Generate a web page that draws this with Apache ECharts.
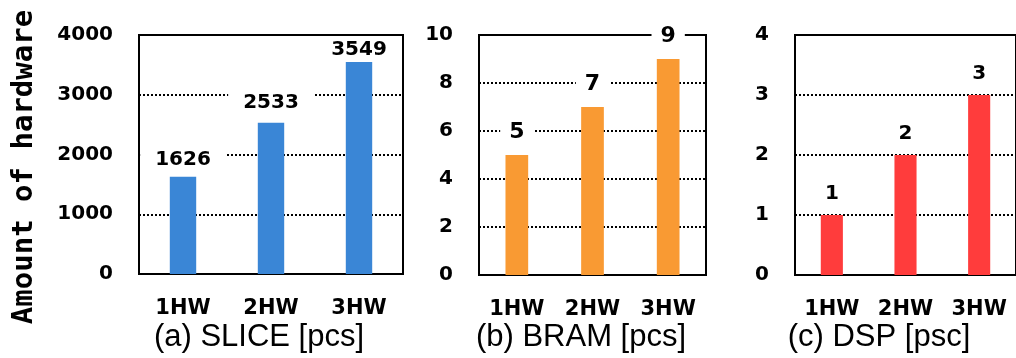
<!DOCTYPE html>
<html>
<head>
<meta charset="utf-8">
<script src="https://cdn.jsdelivr.net/npm/echarts@6/dist/echarts.min.js"></script>
<style>html,body{margin:0;padding:0;background:#fff;}#c{width:1016px;height:358px;}</style>
</head>
<body>
<div id="c"></div>
<script>
const categories = ['1HW', '2HW', '3HW'];
const sliceValues = [1626, 2533, 3549];
const bramValues = [5, 7, 9];
const dspValues = [1, 2, 3];
const panelTitles = ['(a) SLICE [pcs]', '(b) BRAM [pcs]', '(c) DSP [psc]'];
const yAxisTitle = 'Amount of hardware';
const yMax = [4000, 10, 4];
const yInterval = [1000, 2, 1];

const colors = ['#3A86D6', '#F99A33', '#FF3C3C'];
const grids = [
  {left: 139, top: 35, width: 264, height: 239},
  {left: 479, top: 35, width: 227, height: 240},
  {left: 795, top: 35, width: 229, height: 240}
];
// label offsets above each bar (per panel, per bar)
const labelDist = [[5, 8, 0], [11, 11, 11], [10, 10, 10]];
const labelPad = [[2, 15], [1, 9], [1, 9]];
const labelSize = [20, 22, 20];
const titleX = [259, 581, 879];
const seriesData = [sliceValues, bramValues, dspValues];

const chart = echarts.init(document.getElementById('c'), null, {renderer: 'canvas'});
const boldFont = '"DejaVu Sans", sans-serif';

const option = {
  animation: false,
  backgroundColor: '#fff',
  grid: grids.map(g => Object.assign({show: true, borderColor: '#000', borderWidth: 2, backgroundColor: 'transparent', containLabel: false}, g)),
  xAxis: grids.map((g, i) => ({
    type: 'category', gridIndex: i, data: categories,
    axisLine: {show: false}, axisTick: {show: false},
    axisLabel: {margin: 24, color: '#000', fontWeight: 'bold', fontSize: 21, fontFamily: boldFont}
  })),
  yAxis: grids.map((g, i) => ({
    type: 'value', gridIndex: i, min: 0, max: yMax[i], interval: yInterval[i],
    axisLine: {show: false}, axisTick: {show: false},
    axisLabel: {margin: 26, color: '#000', fontWeight: 'bold', fontSize: 20, fontFamily: boldFont, formatter: v => String(v)},
    splitLine: {show: true, lineStyle: {color: '#000', width: 2, type: [2, 2]}}
  })),
  series: seriesData.map((d, i) => ({
    type: 'bar', xAxisIndex: i, yAxisIndex: i, barWidth: '30%',
    data: d.map((v, j) => ({value: v, label: {distance: labelDist[i][j]}})),
    itemStyle: {color: colors[i]},
    label: {
      show: true, position: 'top', color: '#000',
      fontWeight: 'bold', fontSize: labelSize[i], fontFamily: boldFont,
      backgroundColor: '#fff', padding: labelPad[i]
    }
  })),
  graphic: [
    {
      type: 'text', x: 24, y: 167, rotation: Math.PI / 2,
      style: {text: yAxisTitle, font: 'bold 29px "DejaVu Sans Mono", monospace', fill: '#000', textAlign: 'center', textVerticalAlign: 'middle'}
    }
  ].concat(panelTitles.map((t, i) => ({
    type: 'text', x: titleX[i], y: 337,
    style: {text: t, font: '31px "Liberation Sans", Arial, sans-serif', fill: '#000', textAlign: 'center', textVerticalAlign: 'middle'}
  })))
};
chart.setOption(option);
</script>
</body>
</html>
